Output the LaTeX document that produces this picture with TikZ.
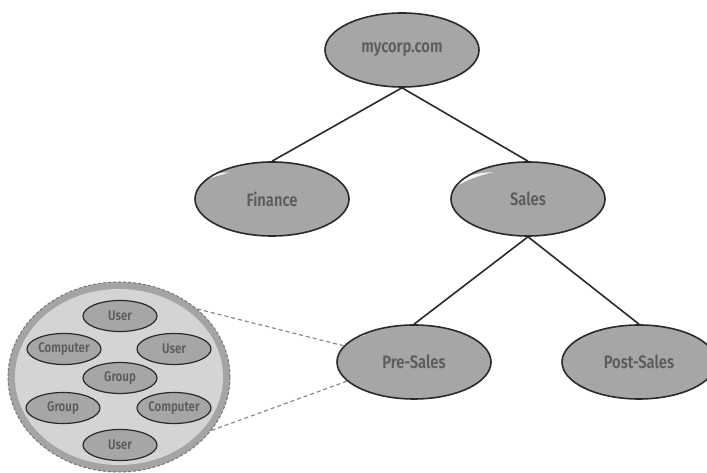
\documentclass[tikz,border=0pt]{standalone}
\usepackage{fontspec}
\setmainfont{Fira Sans}[FakeStretch=0.82, BoldFont={* SemiBold}]
\usetikzlibrary{shapes.geometric,calc}
\definecolor{nodefill}{HTML}{A6A6A6}
\definecolor{nodeline}{HTML}{2A2A2A}
\definecolor{nodetext}{HTML}{5C5C5C}
\definecolor{rimfill}{HTML}{A4A4A4}
\definecolor{rimline}{HTML}{777777}
\definecolor{cloudfill}{HTML}{D4D4D4}
\definecolor{dashcol}{HTML}{8A8A8A}
\tikzset{
  bignode/.style={ellipse, draw=nodeline, line width=1.6pt, fill=nodefill,
    minimum width=154pt, minimum height=74pt, inner sep=0pt,
    text=nodetext, font=\fontsize{18}{21}\selectfont\bfseries,
    path picture={\fill[white, opacity=.9, shift={(path picture bounding box.center)}]
      (-61,14) .. controls (-53,27) and (-38,33) .. (-17,33.5)
      .. controls (-38,28.5) and (-52,22) .. (-61,14) -- cycle;}},
  smallnode/.style={ellipse, draw=nodeline, line width=1.2pt, fill=nodefill,
    minimum width=74pt, minimum height=31pt, inner sep=0pt,
    text=nodetext, font=\fontsize{14}{16}\selectfont\bfseries,
    path picture={\fill[white, opacity=.9, shift={(path picture bounding box.center)}, xscale=.48, yscale=.42]
      (-61,14) .. controls (-53,27) and (-38,33) .. (-17,33.5)
      .. controls (-38,28.5) and (-52,22) .. (-61,14) -- cycle;}},
  treeline/.style={draw=nodeline, line width=1.6pt},
  zoomline/.style={draw=dashcol, line width=1.2pt, dash pattern=on 4pt off 3pt},
}
\begin{document}
\begin{tikzpicture}[x=1pt,y=1pt]
\useasboundingbox[fill=white] (0,0) rectangle (707,473);
% zoom bubble
\node[ellipse, fill=rimfill, draw=rimline, line width=1pt, densely dashed,
  minimum width=222pt, minimum height=190pt, inner sep=0pt] (cloud) at (119,96) {};
\node[ellipse, fill=cloudfill, minimum width=208pt, minimum height=176pt, inner sep=0pt] (cloudin) at (119,96) {};
% tree
\node[bignode] (root) at (402,423) {mycorp.com};
\node[bignode] (fin) at (272,274) {Finance};
\node[bignode] (sales) at (528,274) {Sales};
\node[bignode] (pre) at (414,111) {Pre-Sales};
\node[bignode] (post) at (639,111) {Post-Sales};
\draw[treeline] (root.south) -- (fin.north);
\draw[treeline] (root.south) -- (sales.north);
\draw[treeline] (sales.south) -- (pre.north);
\draw[treeline] (sales.south) -- (post.north);
% objects inside bubble
\node[smallnode] (u1) at (120,157) {User};
\node[smallnode] (c1) at (64,124) {Computer};
\node[smallnode] (u2) at (174,124) {User};
\node[smallnode] (g1) at (120,95) {Group};
\node[smallnode] (g2) at (63,65) {Group};
\node[smallnode] (c2) at (174,65) {Computer};
\node[smallnode] (u3) at (120,28) {User};
% dashed zoom lines
\draw[zoomline] (cloud.41) -- (pre.167);
\draw[zoomline] (cloud.-30) -- (pre.196);
\end{tikzpicture}
\end{document}
